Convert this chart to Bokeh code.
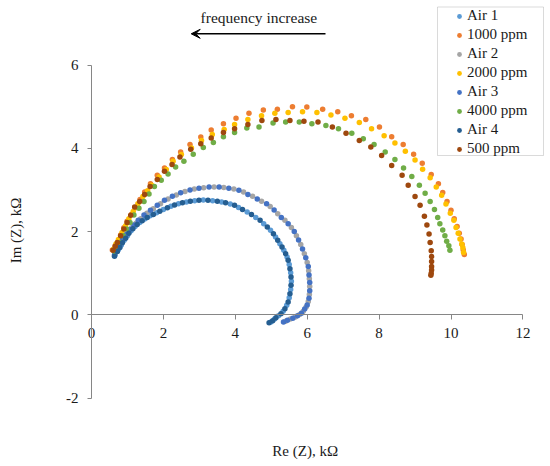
import math
from bokeh.plotting import figure
from bokeh.models import (Range1d, LinearAxis, FixedTicker, Label, Arrow, VeeHead,
                          Legend, LegendItem, ColumnDataSource, BoxAnnotation)
from bokeh.embed import file_html
from bokeh.resources import INLINE

# ---------------- data ----------------
series_names = ["Air 1", "1000 ppm", "Air 2", "2000 ppm", "Air 3", "4000 ppm", "Air 4", "500 ppm"]
series_colors = ["#5B9BD5", "#ED7D31", "#A5A5A5", "#FFC000", "#4472C4", "#70AD47", "#255E91", "#9E480E"]

air1_x = [0.66, 0.75, 0.83, 0.91, 1.00, 1.10, 1.21, 1.34, 1.48, 1.63, 1.81, 2.00, 2.21, 2.42, 2.64, 2.87,
          3.11, 3.37, 3.62, 3.86, 4.09, 4.33, 4.57, 4.79, 4.98, 5.12, 5.24, 5.35, 5.44, 5.50, 5.54, 5.56,
          5.54, 5.50, 5.43, 5.33, 5.20, 5.09, 4.99]
air1_y = [1.45, 1.57, 1.68, 1.79, 1.90, 2.02, 2.12, 2.22, 2.30, 2.38, 2.45, 2.53, 2.61, 2.67, 2.71, 2.74,
          2.76, 2.74, 2.71, 2.66, 2.58, 2.47, 2.34, 2.19, 2.03, 1.87, 1.71, 1.55, 1.39, 1.21, 1.01, 0.81,
          0.61, 0.41, 0.23, 0.09, -0.02, -0.10, -0.17]

ppm1000_x = [0.58, 0.66, 0.72, 0.81, 0.90, 0.99, 1.11, 1.23, 1.35, 1.48, 1.64, 1.83, 2.03, 2.25, 2.48, 2.74,
             3.04, 3.33, 3.67, 4.02, 4.38, 4.78, 5.17, 5.59, 5.99, 6.43, 6.85, 7.23, 7.63, 8.01, 8.35, 8.67,
             8.96, 9.20, 9.45, 9.65, 9.77, 9.89, 10.00, 10.09, 10.17, 10.23, 10.28, 10.31, 10.34, 10.37]
ppm1000_y = [1.56, 1.66, 1.74, 1.92, 2.09, 2.25, 2.41, 2.57, 2.77, 2.95, 3.15, 3.35, 3.53, 3.73, 3.91, 4.09,
             4.27, 4.44, 4.59, 4.72, 4.84, 4.92, 4.94, 5.00, 4.99, 4.94, 4.88, 4.78, 4.69, 4.51, 4.28, 4.09,
             3.86, 3.64, 3.37, 3.15, 2.94, 2.72, 2.51, 2.31, 2.12, 1.96, 1.82, 1.69, 1.56, 1.45]

air2_x = [0.66, 0.74, 0.82, 0.91, 1.01, 1.12, 1.24, 1.37, 1.54, 1.72, 1.92, 2.13, 2.36, 2.60, 2.86, 3.12,
          3.41, 3.68, 3.96, 4.23, 4.48, 4.73, 4.97, 5.18, 5.38, 5.56, 5.70, 5.82, 5.92, 6.00, 6.04, 6.06,
          6.07, 6.06, 6.03, 5.97, 5.89, 5.79, 5.67, 5.53, 5.40]
air2_y = [1.47, 1.60, 1.72, 1.85, 1.97, 2.09, 2.20, 2.31, 2.44, 2.55, 2.67, 2.78, 2.88, 2.96, 3.02, 3.05,
          3.07, 3.06, 3.02, 2.95, 2.85, 2.73, 2.60, 2.43, 2.27, 2.10, 1.90, 1.69, 1.47, 1.26, 1.06, 0.87,
          0.68, 0.49, 0.32, 0.19, 0.09, 0.01, -0.05, -0.10, -0.15]

ppm2000_x = [0.62, 0.68, 0.75, 0.85, 0.95, 1.04, 1.16, 1.29, 1.43, 1.56, 1.67, 1.88, 2.08, 2.27, 2.50, 2.78,
             3.06, 3.36, 3.69, 3.98, 4.35, 4.73, 5.10, 5.47, 5.87, 6.27, 6.66, 7.05, 7.45, 7.79, 8.14, 8.44,
             8.73, 9.00, 9.21, 9.42, 9.59, 9.74, 9.86, 9.98, 10.08, 10.14, 10.20, 10.25, 10.30, 10.33, 10.35]
ppm2000_y = [1.58, 1.70, 1.81, 1.98, 2.14, 2.31, 2.48, 2.67, 2.84, 2.98, 3.11, 3.31, 3.49, 3.69, 3.85, 4.01,
             4.19, 4.33, 4.45, 4.57, 4.69, 4.78, 4.84, 4.86, 4.88, 4.86, 4.80, 4.72, 4.62, 4.47, 4.30, 4.13,
             3.93, 3.72, 3.50, 3.29, 3.07, 2.87, 2.66, 2.44, 2.27, 2.10, 1.96, 1.82, 1.70, 1.61, 1.50]

air3_x = [0.64, 0.72, 0.79, 0.87, 0.97, 1.07, 1.18, 1.30, 1.46, 1.64, 1.83, 2.03, 2.25, 2.48, 2.74, 2.99,
          3.27, 3.55, 3.82, 4.10, 4.35, 4.61, 4.87, 5.08, 5.28, 5.47, 5.64, 5.76, 5.87, 5.96, 6.03, 6.05,
          6.07, 6.07, 6.05, 6.00, 5.93, 5.84, 5.73, 5.60, 5.45, 5.34]
air3_y = [1.44, 1.57, 1.69, 1.81, 1.93, 2.05, 2.16, 2.27, 2.40, 2.51, 2.63, 2.75, 2.85, 2.93, 3.00, 3.04,
          3.07, 3.07, 3.04, 2.99, 2.89, 2.78, 2.67, 2.52, 2.34, 2.19, 2.00, 1.80, 1.58, 1.37, 1.16, 0.96,
          0.78, 0.58, 0.40, 0.24, 0.14, 0.04, -0.02, -0.08, -0.13, -0.17]

ppm4000_x = [0.65, 0.70, 0.79, 0.88, 0.97, 1.07, 1.18, 1.32, 1.46, 1.60, 1.75, 1.94, 2.13, 2.34, 2.57, 2.83,
             3.11, 3.39, 3.67, 3.98, 4.32, 4.66, 5.05, 5.40, 5.78, 6.13, 6.52, 6.87, 7.24, 7.56, 7.86, 8.17,
             8.44, 8.68, 8.91, 9.12, 9.28, 9.42, 9.54, 9.63, 9.69, 9.77, 9.83, 9.88, 9.94, 9.97]
ppm4000_y = [1.52, 1.60, 1.74, 1.90, 2.06, 2.22, 2.40, 2.56, 2.72, 2.90, 3.08, 3.23, 3.38, 3.55, 3.69, 3.86,
             4.02, 4.14, 4.28, 4.38, 4.49, 4.51, 4.61, 4.63, 4.63, 4.59, 4.55, 4.47, 4.36, 4.23, 4.09, 3.91,
             3.73, 3.53, 3.32, 3.11, 2.92, 2.72, 2.53, 2.34, 2.19, 2.04, 1.90, 1.77, 1.66, 1.55]

air4_x = [0.64, 0.72, 0.79, 0.86, 0.95, 1.04, 1.15, 1.27, 1.41, 1.55, 1.72, 1.90, 2.11, 2.31, 2.53, 2.75,
          2.99, 3.24, 3.50, 3.73, 3.98, 4.20, 4.45, 4.69, 4.89, 5.06, 5.18, 5.30, 5.40, 5.47, 5.52, 5.55,
          5.55, 5.52, 5.47, 5.38, 5.27, 5.13, 5.04, 4.94]
air4_y = [1.41, 1.52, 1.62, 1.73, 1.84, 1.96, 2.07, 2.17, 2.26, 2.34, 2.41, 2.49, 2.57, 2.64, 2.69, 2.73,
          2.75, 2.75, 2.73, 2.69, 2.63, 2.53, 2.41, 2.27, 2.11, 1.95, 1.79, 1.63, 1.47, 1.31, 1.11, 0.91,
          0.71, 0.51, 0.31, 0.15, 0.03, -0.07, -0.14, -0.19]

ppm500_x = [0.60, 0.66, 0.72, 0.81, 0.90, 0.99, 1.09, 1.20, 1.34, 1.48, 1.63, 1.83, 2.03, 2.24, 2.46, 2.76,
            3.04, 3.33, 3.67, 3.98, 4.35, 4.74, 5.13, 5.52, 5.91, 6.30, 6.70, 7.08, 7.45, 7.77, 8.07, 8.35,
            8.64, 8.81, 9.00, 9.14, 9.26, 9.33, 9.39, 9.42, 9.45, 9.46, 9.46, 9.46, 9.46, 9.45, 9.44]
ppm500_y = [1.55, 1.65, 1.74, 1.90, 2.06, 2.22, 2.39, 2.59, 2.72, 2.89, 3.08, 3.25, 3.45, 3.61, 3.79, 3.98,
            4.11, 4.25, 4.38, 4.47, 4.57, 4.67, 4.69, 4.67, 4.65, 4.63, 4.51, 4.36, 4.19, 4.03, 3.83, 3.59,
            3.35, 3.11, 2.84, 2.63, 2.37, 2.16, 1.94, 1.74, 1.54, 1.40, 1.28, 1.16, 1.08, 1.00, 0.95]

x_ticks = [0, 2, 4, 6, 8, 10, 12]
y_ticks = [-2, 0, 2, 4, 6]
x_title = "Re (Z), kΩ"
y_title = "Im (Z), kΩ"
note_text = "frequency increase"

series_x = [air1_x, ppm1000_x, air2_x, ppm2000_x, air3_x, ppm4000_x, air4_x, ppm500_x]
series_y = [air1_y, ppm1000_y, air2_y, ppm2000_y, air3_y, ppm4000_y, air4_y, ppm500_y]

# ---------------- figure ----------------
FONT = "Liberation Serif"
AXIS_COLOR = "#868686"
TEXT_COLOR = "#1a1a1a"

W, H = 550, 466
# axes box in canvas pixels: x 0..12 -> 91..522.4, y 6..-2 -> 64.5..397.7
X0, X12 = 91.0, 522.4
Y6, YM2 = 64.5, 397.7
PX_X = (X12 - X0) / 12.0
PX_Y = (YM2 - Y6) / 8.0

def dx(px):   # canvas pixel -> data x (for annotation placement)
    return (px - X0) / PX_X

def dy(py):   # canvas pixel -> data y
    return 6 - (py - Y6) / PX_Y

p = figure(width=W, height=H, output_backend="svg", toolbar_location=None,
           x_range=Range1d(dx(0), dx(W)), y_range=Range1d(dy(H), dy(0)),
           x_axis_location=None, y_axis_location=None,
           min_border=0)
p.grid.visible = False
p.outline_line_color = None
p.background_fill_color = "white"
p.border_fill_color = "white"

def style_axis(ax):
    ax.axis_line_color = AXIS_COLOR
    ax.axis_line_width = 1
    ax.major_tick_line_color = AXIS_COLOR
    ax.minor_tick_line_color = None
    ax.major_tick_in = 0
    ax.major_label_text_font = FONT
    ax.major_label_text_font_size = "15px"
    ax.major_label_text_color = TEXT_COLOR

xaxis = LinearAxis(ticker=FixedTicker(ticks=x_ticks), fixed_location=0, bounds=(0, 12))
style_axis(xaxis)
xaxis.major_tick_out = 5
xaxis.major_label_standoff = 8
p.add_layout(xaxis, "below")

yaxis = LinearAxis(ticker=FixedTicker(ticks=y_ticks), fixed_location=0, bounds=(-2, 6))
style_axis(yaxis)
yaxis.major_tick_out = 4
yaxis.major_label_standoff = 9
yaxis.major_label_overrides = {t: str(t) for t in y_ticks}
p.add_layout(yaxis, "left")

items = []
for name, color, xs, ys in zip(series_names, series_colors, series_x, series_y):
    src = ColumnDataSource(data=dict(x=xs, y=ys))
    r = p.scatter("x", "y", source=src, marker="circle", size=5.5,
                  fill_color=color, line_color=None)
    items.append(LegendItem(label=name, renderers=[r]))

# legend frame
p.add_layout(BoxAnnotation(left=dx(437), right=dx(543), top=dy(6.5), bottom=dy(155),
                           fill_color="white", fill_alpha=1.0,
                           line_color=AXIS_COLOR, line_width=1))

legend = Legend(items=items, location=(452, H - 157.7),
                label_text_font=FONT, label_text_font_size="15px", label_text_color=TEXT_COLOR,
                glyph_width=14, glyph_height=12, label_height=18, label_width=76,
                label_standoff=1, spacing=1, padding=0, margin=0,
                border_line_color=None, background_fill_alpha=0.0)
p.add_layout(legend, "center")

# axis titles and annotation
p.add_layout(Label(x=dx(304.7), y=dy(450), text=x_title, text_font=FONT, text_font_size="15px",
                   text_color=TEXT_COLOR, text_align="center", text_baseline="middle"))
p.add_layout(Label(x=dx(15), y=dy(230), text=y_title, text_font=FONT, text_font_size="15px",
                   text_color=TEXT_COLOR, text_align="center", text_baseline="middle",
                   angle=math.pi / 2))
p.add_layout(Label(x=dx(258.4), y=dy(16.7), text=note_text, text_font=FONT, text_font_size="15.5px",
                   text_color=TEXT_COLOR, text_align="center", text_baseline="middle"))
p.add_layout(Arrow(end=VeeHead(size=9, fill_color="black", line_color="black", line_width=1),
                   x_start=dx(325), y_start=dy(33.3), x_end=dx(190.7), y_end=dy(33.3),
                   line_color="black", line_width=1.6))

open("out.html", "w").write(file_html(p, INLINE))
